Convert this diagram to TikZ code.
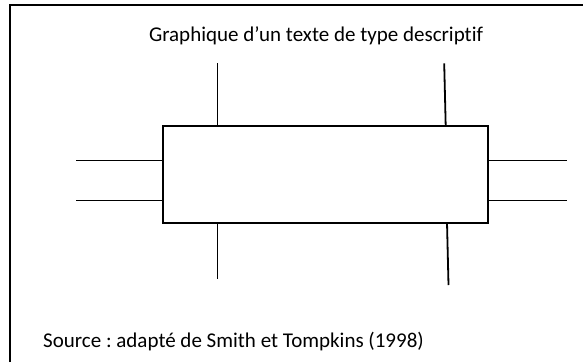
\documentclass[tikz,border=0pt]{standalone}
\usepackage{fontspec}
\setmainfont[Ligatures=NoCommon]{Carlito}
\frenchspacing
\begin{document}
\begin{tikzpicture}[x=1pt,y=-1pt,
  mainbox/.style={draw=black,line width=2pt,minimum width=325pt,minimum height=97.3pt,inner sep=0pt},
  link/.style={draw=black,line width=1.8pt},
  frameline/.style={draw=black,line width=2.2pt},
  label/.style={font=\fontsize{21}{25}\selectfont,inner sep=0pt}]
\useasboundingbox (0,0) rectangle (583,362);
% outer frame (top and left edges visible)
\draw[frameline] (10,362) -- (10,5) -- (583,5);
% title
\node[label] (title) at (316,36) {Graphique d’un texte de type descriptif};
% central box
\node[mainbox] (box) at (325.5,174.7) {};
\draw[line width=1.2pt] (320,125.6) -- (407,125.6);
% free ends
\coordinate (tl) at (217.5,63.3);
\coordinate (tr) at (444.2,63.3);
\coordinate (trb) at (445.7,126);
\coordinate (bl) at (217.5,279.3);
\coordinate (brt) at (447,222.5);
\coordinate (br) at (448.5,285);
\coordinate (l1) at (76,160.5);
\coordinate (l2) at (76,200.5);
\coordinate (r1) at (567,160.5);
\coordinate (r2) at (567,200.5);
% connectors
\draw[link] (tl) -- (tl |- box.north);
\draw[link] (tr) -- (trb);
\draw[link] (bl |- box.south) -- (bl);
\draw[link] (brt) -- (br);
\draw[link] (l1) -- (l1 -| box.west);
\draw[link] (l2) -- (l2 -| box.west);
\draw[link] (box.east |- r1) -- (r1);
\draw[link] (box.east |- r2) -- (r2);
% source
\node[label,anchor=west] (source) at (43,342) {Source : adapté de Smith et Tompkins (1998)};
\end{tikzpicture}
\end{document}
